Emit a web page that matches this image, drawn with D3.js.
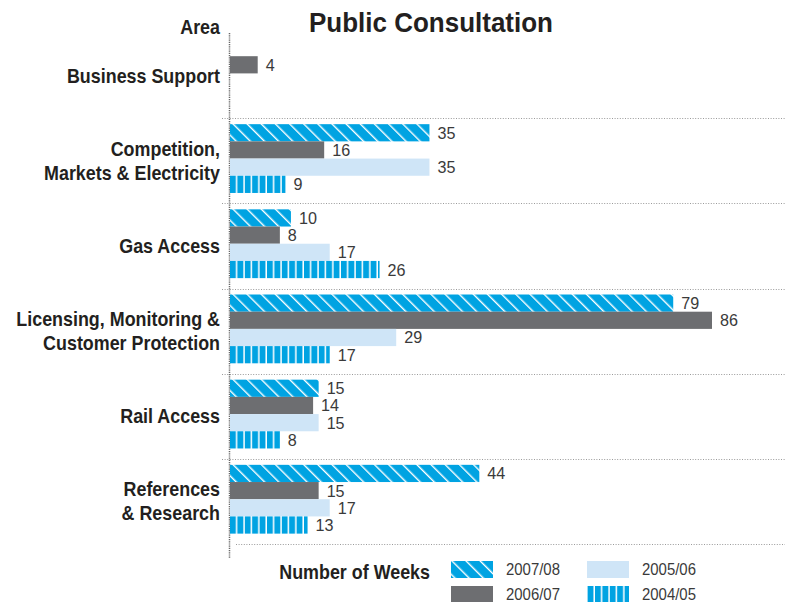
<!DOCTYPE html>
<html>
<head>
<meta charset="utf-8">
<script src="https://cdn.jsdelivr.net/npm/d3@7"></script>
<style>
  body { margin: 0; background: #fff; }
  svg { display: block; }
  text { font-family: "Liberation Sans", Arial, sans-serif; }
</style>
</head>
<body>
<div id="chart"></div>
<script>
const areas = [
  'Business Support',
  'Competition,\nMarkets & Electricity',
  'Gas Access',
  'Licensing, Monitoring &\nCustomer Protection',
  'Rail Access',
  'References\n& Research'
];
const years = ['2007/08', '2006/07', '2005/06', '2004/05'];
const weeks0708 = [null, 35, 10, 79, 15, 44];
const weeks0607 = [4, 16, 8, 86, 14, 15];
const weeks0506 = [null, 35, 17, 29, 15, 17];
const weeks0405 = [null, 9, 26, 17, 8, 13];

const series = [weeks0708, weeks0607, weeks0506, weeks0405];
const fills = ['url(#hatch)', '#6d6e71', '#cfe5f7', 'url(#stripes)'];

const width = 785;
const height = 602;

const svg = d3.select('#chart').append('svg')
  .attr('width', width)
  .attr('height', height);

// no condensed face installed: squeeze the text horizontally around its anchor
const measure = (str, size, weight) => {
  const t = svg.append('text').attr('font-size', size).attr('font-weight', weight).text(str);
  const w = t.node().getComputedTextLength();
  t.remove();
  return w;
};
const squeeze = (sel, f, ax) => sel.attr('transform', function () {
  const a = ax != null ? ax : +d3.select(this).attr('x');
  return `translate(${a},0) scale(${f},1) translate(${-a},0)`;
});

const fLabel = 176 / measure('Markets & Electricity', 20, 'bold');
const fTitle = 244 / measure('Public Consultation', 28.5, 'bold');
const fValue = 54 / measure('2007/08', 16, 'normal');

// patterns
const defs = svg.append('defs');
const hatch = defs.append('pattern')
  .attr('id', 'hatch')
  .attr('patternUnits', 'userSpaceOnUse')
  .attr('width', 10).attr('height', 10)
  .attr('patternTransform', 'rotate(-45)');
hatch.append('rect').attr('width', 10).attr('height', 10).attr('fill', '#00a3e2');
hatch.append('rect').attr('x', 0).attr('width', 1.4).attr('height', 10).attr('fill', '#fff');

const stripes = defs.append('pattern')
  .attr('id', 'stripes')
  .attr('patternUnits', 'userSpaceOnUse')
  .attr('x', 230)
  .attr('width', 7.4).attr('height', 10);
stripes.append('rect').attr('width', 7.4).attr('height', 10).attr('fill', '#00a3e2');
stripes.append('rect').attr('x', 5.9).attr('width', 1.5).attr('height', 10).attr('fill', '#fff');

const x = d3.scaleLinear().domain([-1, 86]).range([230, 712]);
const yGroup = d3.scaleBand().domain(areas).range([33, 544]);
const ySlot = d3.scaleBand().domain(years).range([6, 6 + 4 * 17.2]);

// title
svg.append('text')
  .attr('x', 431).attr('y', 32)
  .attr('text-anchor', 'middle')
  .attr('font-size', 28.5).attr('font-weight', 'bold')
  .attr('fill', '#231f20')
  .text('Public Consultation')
  .call(squeeze, fTitle);

svg.append('text')
  .attr('x', 220).attr('y', 34)
  .attr('text-anchor', 'end')
  .attr('font-size', 20).attr('font-weight', 'bold')
  .attr('fill', '#231f20')
  .text('Area')
  .call(squeeze, fLabel);

// separators
svg.append('g').selectAll('line')
  .data(areas)
  .join('line')
    .attr('x1', (d, i) => i === areas.length - 1 ? 236 : 222)
    .attr('x2', width)
    .attr('y1', d => Math.round(yGroup(d) + yGroup.bandwidth()) + 0.5)
    .attr('y2', d => Math.round(yGroup(d) + yGroup.bandwidth()) + 0.5)
    .attr('stroke', '#9a9a9a')
    .attr('stroke-width', 1)
    .attr('stroke-dasharray', '1,1.6');

// axis line
svg.append('line')
  .attr('x1', 229.5).attr('x2', 229.5)
  .attr('y1', 33).attr('y2', 558)
  .attr('stroke', '#666')
  .attr('stroke-width', 1.5)
  .attr('stroke-dasharray', '1.2,1');

// category labels
const labels = svg.append('g').selectAll('text')
  .data(areas)
  .join('text')
    .attr('x', 220)
    .attr('text-anchor', 'end')
    .attr('font-size', 20).attr('font-weight', 'bold')
    .attr('fill', '#231f20');

labels.each(function (d) {
  const lines = d.split('\n');
  const cy = yGroup(d) + yGroup.bandwidth() / 2;
  d3.select(this).selectAll('tspan')
    .data(lines)
    .join('tspan')
      .attr('x', 220)
      .attr('y', (l, i) => cy + 7 + (i - (lines.length - 1) / 2) * 24)
      .text(l => l);
});
labels.call(squeeze, fLabel, 220);

// bars
const groups = svg.append('g').selectAll('g')
  .data(areas)
  .join('g')
    .attr('transform', d => `translate(0, ${yGroup(d)})`);

const cells = groups.selectAll('g')
  .data((d, i) => years.map((yr, k) => ({ yr, k, v: series[k][i] })).filter(c => c.v != null))
  .join('g');

cells.append('rect')
  .attr('x', x.range()[0])
  .attr('y', c => ySlot(c.yr))
  .attr('width', c => x(c.v) - x.range()[0])
  .attr('height', ySlot.bandwidth())
  .attr('fill', c => fills[c.k]);

cells.append('text')
  .attr('x', c => x(c.v) + 8)
  .attr('y', c => ySlot(c.yr) + ySlot.bandwidth() / 2 + 6)
  .attr('font-size', 17)
  .attr('fill', '#3a3a3a')
  .text(c => c.v)
  .call(squeeze, 0.95);

// legend
svg.append('text')
  .attr('x', 430).attr('y', 579)
  .attr('text-anchor', 'end')
  .attr('font-size', 20).attr('font-weight', 'bold')
  .attr('fill', '#231f20')
  .text('Number of Weeks')
  .call(squeeze, fLabel);

const legendPos = [[451, 561], [451, 586], [587, 561], [587, 586]];
const legend = svg.append('g').selectAll('g')
  .data(years)
  .join('g')
    .attr('transform', (d, i) => `translate(${legendPos[i][0]}, ${legendPos[i][1]})`);

legend.append('rect')
  .attr('width', 42).attr('height', 17)
  .attr('fill', (d, i) => fills[i]);

legend.append('text')
  .attr('x', 55).attr('y', 14)
  .attr('font-size', 16)
  .attr('fill', '#3a3a3a')
  .text(d => d)
  .call(squeeze, fValue);
</script>
</body>
</html>
